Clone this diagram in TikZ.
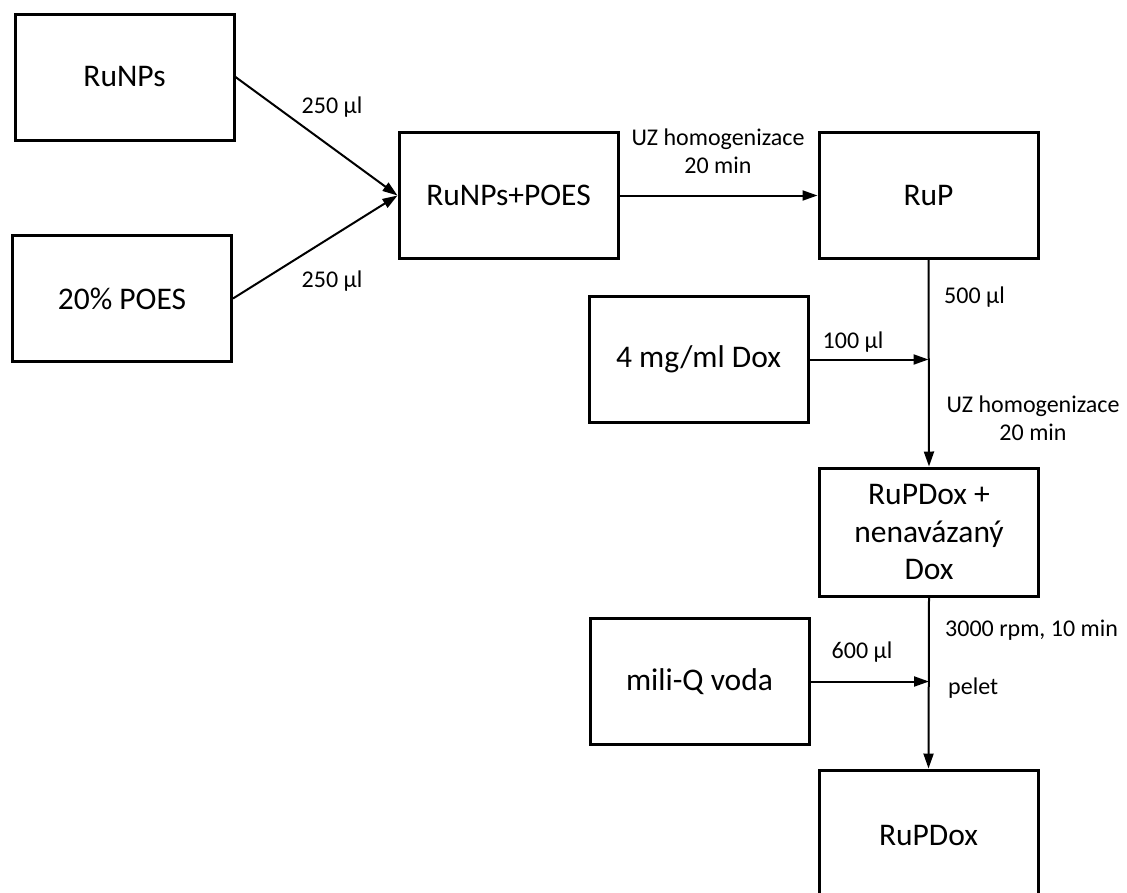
\documentclass[tikz,border=0pt]{standalone}
\usepackage{fontspec}
\setmainfont{Carlito}
\usetikzlibrary{arrows.meta}
\begin{document}
\begin{tikzpicture}[x=1pt,y=-1pt,
  box/.style={draw, line width=3pt, minimum width=219pt, minimum height=126pt,
    inner sep=2pt, align=center, font=\fontsize{31.5}{37.5}\selectfont},
  lbl/.style={inner sep=0pt, font=\fontsize{24}{28}\selectfont},
  arr/.style={line width=2pt, -{Triangle[length=15pt,width=10pt]}},
  plain/.style={line width=2pt}]
\useasboundingbox (0,0) rectangle (1127,892);
\clip (0,0) rectangle (1127,892);
\node[box] (runps) at (124.5,77) {RuNPs};
\node[box] (poes) at (122,298.5) {20\% POES};
\node[box] (mix) at (508.5,195.5) {RuNPs+POES};
\node[box] (rup) at (928.5,195.5) {RuP};
\node[box] (dox) at (698.5,359.5) {4 mg/ml Dox};
\node[box, minimum height=128pt] (rupdox1) at (929,532) {RuPDox +\\nenavázaný\\Dox};
\node[box] (voda) at (699.5,681.5) {mili-Q voda};
\node[box, minimum height=130pt] (rupdox) at (928.5,835) {RuPDox};
\coordinate (j1) at (rup.south |- dox.east);
\coordinate (j2) at (rupdox1.south |- voda.east);
\draw[arr] (runps.east) -- (mix.west);
\draw[arr] (poes.east) -- (mix.west);
\draw[arr] (mix.east) -- (rup.west);
\draw[arr] (rup.south) -- (rupdox1.north);
\draw[arr] (dox.east) -- (j1);
\draw[arr] (rupdox1.south) -- (rupdox.north);
\draw[arr] (voda.east) -- (j2);
\node[lbl] (l1) at (332,107) {250 µl};
\node[lbl] (l2) at (332,281) {250 µl};
\node[lbl, align=center] (l3) at (718,151) {UZ homogenizace\\20 min};
\node[lbl, anchor=west] (l4) at (944,297) {500 µl};
\node[lbl] (l5) at (853,342) {100 µl};
\node[lbl, align=center] (l6) at (1033,418) {UZ homogenizace\\20 min};
\node[lbl, anchor=west] (l7) at (945,630) {3000 rpm, 10 min};
\node[lbl] (l8) at (862,652) {600 µl};
\node[lbl, anchor=west] (l9) at (948,688) {pelet};
\end{tikzpicture}
\end{document}
